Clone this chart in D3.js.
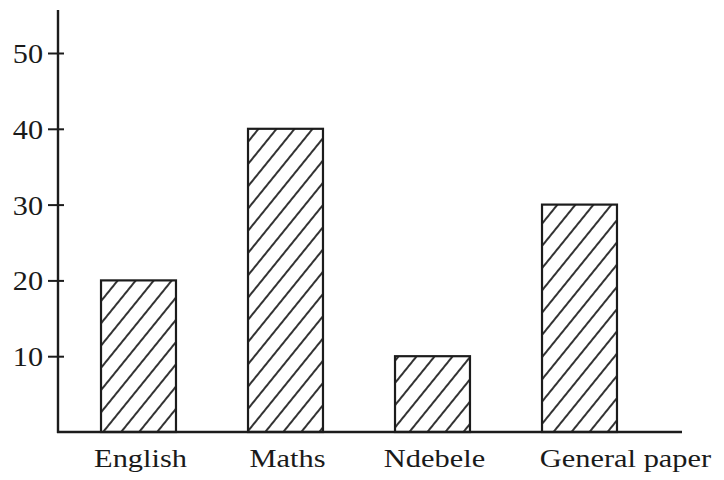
<!DOCTYPE html>
<html>
<head>
<meta charset="utf-8">
<script src="https://cdn.jsdelivr.net/npm/d3@7/dist/d3.min.js"></script>
<style>
  html, body { margin: 0; padding: 0; background: #fff; }
  svg { display: block; }
  text { font-family: "Liberation Serif", "Times New Roman", serif; fill: #1a1a1a; }
</style>
</head>
<body>
<svg id="chart" width="724" height="480"></svg>
<script>
// Subjects and their values
const subjects = ["English", "Maths", "Ndebele", "General paper"];
const scores = [20, 40, 10, 30];
const yTicks = [10, 20, 30, 40, 50];

const svg = d3.select("#chart");
const ink = "#1c1c1c";

const x = d3.scaleBand()
  .domain(subjects)
  .range([65, 653])
  .paddingInner(0.49)
  .paddingOuter(0.245);

const y = d3.scaleLinear()
  .domain([0, 50])
  .range([432, 53]);

// Diagonal hatch fill for the bars
const defs = svg.append("defs");
const pat = defs.append("pattern")
  .attr("id", "hatch")
  .attr("patternUnits", "userSpaceOnUse")
  .attr("width", 14)
  .attr("height", 14)
  .attr("patternTransform", "rotate(39)");
pat.append("rect").attr("width", 14).attr("height", 14).attr("fill", "#fff");
pat.append("line")
  .attr("x1", 2).attr("y1", 0).attr("x2", 2).attr("y2", 14)
  .attr("stroke", ink).attr("stroke-width", 1.8);

// Bars
svg.append("g")
  .selectAll("rect")
  .data(subjects.map((s, i) => ({ s, v: scores[i] })))
  .join("rect")
  .attr("x", d => x(d.s))
  .attr("y", d => y(d.v))
  .attr("width", x.bandwidth())
  .attr("height", d => y(0) - y(d.v))
  .attr("fill", "url(#hatch)")
  .attr("stroke", ink)
  .attr("stroke-width", 2.2);

const axisX = 58;

// Vertical axis with crossing ticks
const yAxis = svg.append("g")
  .attr("transform", `translate(${axisX},0)`)
  .call(d3.axisLeft(y).tickValues(yTicks).tickSize(10).tickFormat(d3.format("d")));
yAxis.select(".domain").remove();
yAxis.attr("font-family", null).attr("font-size", null);
yAxis.selectAll(".tick line")
  .attr("x1", -10).attr("x2", 6)
  .attr("stroke", ink).attr("stroke-width", 2);
yAxis.selectAll(".tick text")
  .attr("x", 0)
  .attr("dy", "0.34em")
  .attr("font-size", 28)
  .attr("fill", "#1a1a1a")
  .attr("transform", "translate(-15,0) scale(1.08,1)");

svg.append("line")
  .attr("x1", axisX).attr("x2", axisX)
  .attr("y1", 10).attr("y2", y(0) + 1)
  .attr("stroke", ink).attr("stroke-width", 2.4);

// Horizontal baseline
svg.append("line")
  .attr("x1", axisX - 1).attr("x2", 682)
  .attr("y1", y(0)).attr("y2", y(0))
  .attr("stroke", ink).attr("stroke-width", 2.4);

// Category labels
const xAxis = svg.append("g")
  .attr("transform", `translate(0,${y(0)})`)
  .call(d3.axisBottom(x).tickSize(0));
xAxis.select(".domain").remove();
xAxis.attr("font-family", null).attr("font-size", null);
xAxis.selectAll(".tick text")
  .attr("y", 0)
  .attr("dy", 0)
  .attr("font-size", 26)
  .attr("fill", "#1a1a1a")
  .attr("transform", (d, i) => `translate(${i === subjects.length - 1 ? 46 : 2},35) scale(1.17,1)`);
</script>
</body>
</html>
